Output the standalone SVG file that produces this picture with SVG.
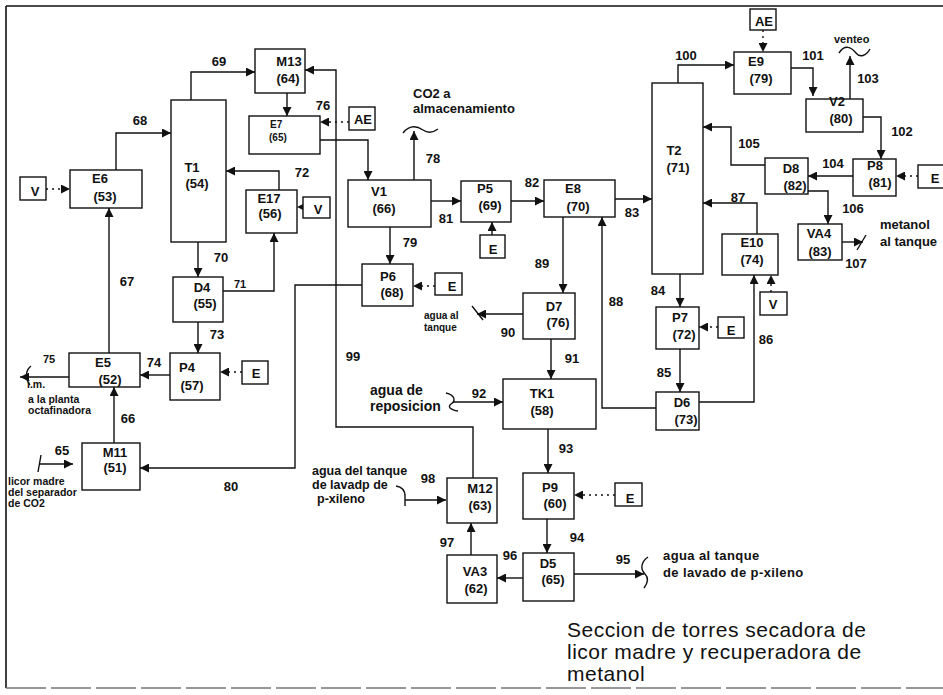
<svg xmlns="http://www.w3.org/2000/svg" width="943" height="695" viewBox="0 0 943 695">
<defs>
<marker id="a" viewBox="0 0 10 10" refX="10" refY="5" markerWidth="9" markerHeight="9" markerUnits="userSpaceOnUse" orient="auto"><path d="M0,0 L10,5 L0,10 z" fill="#111"/></marker>
<style>
.n rect{fill:#fff;stroke:#111;stroke-width:1.4}
text{font-family:"Liberation Sans",Arial,sans-serif;font-weight:bold;fill:#111}
.n text,.lb text{font-size:13px;text-anchor:middle}
.c path{stroke:#111;stroke-width:1.4;fill:none}
.c .ar{marker-end:url(#a)}
.c .d{stroke-dasharray:2 4}
.sm{font-size:10.5px}
.fr{stroke:#111;stroke-width:1.6;fill:none}
.title{font-weight:normal;font-size:21px;letter-spacing:0.5px}
</style>
</defs>
<rect width="943" height="695" fill="#fff"/>
<path class="fr" d="M6,6 H943 M6,6 V688"/>
<path d="M6,688 H943" stroke="#777" stroke-width="1.4" stroke-dasharray="40 5" fill="none"/>

<g class="c">
<path class="ar" d="M116,170 V133 H171"/>
<path class="ar" d="M191,100 V72 H255"/>
<path class="ar" d="M287,93 V116"/>
<path class="ar" d="M473,478 V427 H336 V70 H305"/>
<path class="ar" d="M320,140 H368 V180"/>
<path class="ar d" d="M349,122 H320"/>
<path class="ar" d="M279,190 V171 H226"/>
<path class="ar d" d="M303,207 H297"/>
<path class="ar d" d="M46,189 H70"/>
<path class="ar" d="M109,353 V208"/>
<path class="ar" d="M198,242 V277"/>
<path class="ar" d="M223,291 H274 V233"/>
<path class="ar" d="M198,322 V353"/>
<path class="ar d" d="M242,372 H220"/>
<path class="ar" d="M170,375 H140"/>
<path class="ar" d="M69,377 H20"/>
<path d="M31,366 C25,371 25,379 30,385"/>
<path class="ar" d="M114,443 V387"/>
<path class="ar" d="M39,464 H73"/>
<path d="M38,472 L41,455"/>
<path class="ar" d="M362,285 H295 V468 H140"/>
<path class="ar" d="M414,180 V131"/>
<path d="M403,133 C410,124 417,126 423,130 C429,134 434,132 438,129"/>
<path class="ar" d="M390,227 V264"/>
<path class="ar d" d="M435,286 H413"/>
<path class="ar" d="M431,201 H461"/>
<path class="ar" d="M492,235 V222"/>
<path class="ar" d="M511,201 H544"/>
<path class="ar" d="M615,199 H652"/>
<path class="ar" d="M563,217 V293"/>
<path class="ar" d="M656,408 H602 V217"/>
<path class="ar" d="M523,314 H477"/>
<path d="M472,306 L483,320"/>
<path class="ar" d="M551,339 V379"/>
<path class="ar" d="M453,402 H503"/>
<path d="M446,393 C455,395 456,401 451,404 C447,407 451,410 458,411"/>
<path class="ar" d="M548,429 V473"/>
<path class="ar d" d="M615,495 H574"/>
<path class="ar" d="M547,519 V553"/>
<path class="ar" d="M523,578 H497"/>
<path class="ar" d="M471,555 V523"/>
<path class="ar" d="M405,500 H446"/>
<path d="M396,486 C402,487 405,490 405,496 M405,494 V506"/>
<path class="ar" d="M574,574 H644"/>
<path d="M648,557 C641,562 640,569 645,574 C650,579 647,584 644,588"/>
<path class="ar" d="M678,83 V65 H734"/>
<path class="ar d" d="M763,30 V52"/>
<path class="ar" d="M791,68 H813 V96"/>
<path class="ar" d="M850,99 V56"/>
<path d="M839,53 C845,44 851,47 856,53 C860,58 866,56 870,49"/>
<path class="ar" d="M863,117 H881 V159"/>
<path class="ar d" d="M918,176 H896"/>
<path class="ar" d="M853,176 H808"/>
<path class="ar" d="M765,165 H731 V127 H703"/>
<path class="ar" d="M808,191 H828 V224"/>
<path class="ar" d="M842,242 H863"/>
<path d="M857,250 L866,235"/>
<path class="ar" d="M757,234 V203 H703"/>
<path class="ar" d="M680,274 V307"/>
<path class="ar d" d="M718,327 H699"/>
<path class="ar" d="M680,349 V392"/>
<path class="ar" d="M699,402 H754 V275"/>
<path class="ar d" d="M771,292 V275"/>
</g>

<g class="n" id="M13"><rect x="255" y="49" width="50" height="44"/><text x="289" y="66">M13</text><text x="288" y="83">(64)</text></g>
<g class="n" id="E7"><rect x="249" y="116" width="71" height="38"/><text x="270" y="128" style="font-size:10px;text-anchor:start">E7</text><text x="269" y="141" style="font-size:10px;text-anchor:start">(65)</text></g>
<g class="n" id="T1"><rect x="171" y="100" width="55" height="142"/><text x="192" y="172">T1</text><text x="197" y="188">(54)</text></g>
<g class="n" id="E6"><rect x="70" y="170" width="72" height="38"/><text x="100" y="183">E6</text><text x="105" y="201">(53)</text></g>
<g class="n" id="V-E6"><rect x="20" y="177" width="26" height="23"/><text x="35" y="196">V</text></g>
<g class="n" id="E17"><rect x="246" y="190" width="51" height="43"/><text x="269" y="203">E17</text><text x="270" y="218">(56)</text></g>
<g class="n" id="V-E17"><rect x="303" y="197" width="27" height="21"/><text x="318" y="214">V</text></g>
<g class="n" id="D4"><rect x="173" y="277" width="50" height="45"/><text x="202" y="292">D4</text><text x="205" y="308">(55)</text></g>
<g class="n" id="P4"><rect x="170" y="353" width="50" height="47"/><text x="187" y="372">P4</text><text x="192" y="390">(57)</text></g>
<g class="n" id="E-P4"><rect x="242" y="361" width="26" height="23"/><text x="256" y="378">E</text></g>
<g class="n" id="E5"><rect x="69" y="353" width="71" height="34"/><text x="103" y="367">E5</text><text x="110" y="384">(52)</text></g>
<g class="n" id="M11"><rect x="82" y="443" width="58" height="47"/><text x="115" y="457">M11</text><text x="115" y="472">(51)</text></g>
<g class="n" id="V1"><rect x="348" y="180" width="83" height="47"/><text x="379" y="196">V1</text><text x="384" y="213">(66)</text></g>
<g class="n" id="P5"><rect x="461" y="181" width="50" height="41"/><text x="485" y="193">P5</text><text x="490" y="210">(69)</text></g>
<g class="n" id="E-P5"><rect x="480" y="235" width="25" height="23"/><text x="493" y="254">E</text></g>
<g class="n" id="E8"><rect x="544" y="180" width="71" height="37"/><text x="573" y="193">E8</text><text x="578" y="211">(70)</text></g>
<g class="n" id="P6"><rect x="362" y="264" width="51" height="42"/><text x="388" y="281">P6</text><text x="392" y="297">(68)</text></g>
<g class="n" id="E-P6"><rect x="435" y="273" width="27" height="22"/><text x="452" y="291">E</text></g>
<g class="n" id="D7"><rect x="523" y="293" width="52" height="46"/><text x="554" y="311">D7</text><text x="558" y="327">(76)</text></g>
<g class="n" id="TK1"><rect x="503" y="379" width="93" height="50"/><text x="542" y="398">TK1</text><text x="542" y="415">(58)</text></g>
<g class="n" id="M12"><rect x="447" y="478" width="50" height="45"/><text x="480" y="493">M12</text><text x="480" y="510">(63)</text></g>
<g class="n" id="P9"><rect x="523" y="473" width="51" height="46"/><text x="550" y="492">P9</text><text x="555" y="508">(60)</text></g>
<g class="n" id="E-P9"><rect x="615" y="483" width="27" height="23"/><text x="630" y="503">E</text></g>
<g class="n" id="VA3"><rect x="447" y="555" width="50" height="48"/><text x="475" y="576">VA3</text><text x="476" y="593">(62)</text></g>
<g class="n" id="D5"><rect x="523" y="553" width="51" height="48"/><text x="548" y="568">D5</text><text x="553" y="584">(65)</text></g>
<g class="n" id="T2"><rect x="652" y="83" width="51" height="191"/><text x="674" y="155">T2</text><text x="678" y="172">(71)</text></g>
<g class="n" id="AE-E9"><rect x="750" y="9" width="26" height="21"/><text x="764" y="26">AE</text></g>
<g class="n" id="E9"><rect x="734" y="52" width="57" height="42"/><text x="756" y="66">E9</text><text x="761" y="83">(79)</text></g>
<g class="n" id="V2"><rect x="806" y="99" width="57" height="33"/><text x="837" y="106">V2</text><text x="841" y="123">(80)</text></g>
<g class="n" id="P8"><rect x="853" y="159" width="43" height="37"/><text x="875" y="170">P8</text><text x="880" y="187">(81)</text></g>
<g class="n" id="E-P8"><rect x="918" y="165" width="30" height="23"/><text x="935" y="183">E</text></g>
<g class="n" id="D8"><rect x="765" y="158" width="43" height="36"/><text x="791" y="173">D8</text><text x="795" y="190">(82)</text></g>
<g class="n" id="VA4"><rect x="798" y="224" width="44" height="36"/><text x="819" y="238">VA4</text><text x="820" y="256">(83)</text></g>
<g class="n" id="E10"><rect x="722" y="234" width="56" height="41"/><text x="752" y="247">E10</text><text x="752" y="264">(74)</text></g>
<g class="n" id="V-E10"><rect x="760" y="292" width="27" height="23"/><text x="773" y="309">V</text></g>
<g class="n" id="P7"><rect x="656" y="307" width="43" height="42"/><text x="680" y="322">P7</text><text x="684" y="339">(72)</text></g>
<g class="n" id="E-P7"><rect x="718" y="317" width="26" height="21"/><text x="731" y="335">E</text></g>
<g class="n" id="D6"><rect x="656" y="392" width="43" height="38"/><text x="682" y="407">D6</text><text x="686" y="424">(73)</text></g>
<g class="n" id="AE-E7"><rect x="349" y="107" width="26" height="23"/><text x="363" y="124">AE</text></g>

<g class="lb">
<text x="219" y="66">69</text><text x="140" y="125">68</text><text x="302" y="177">72</text><text x="323" y="110">76</text>
<text x="127" y="286">67</text><text x="221" y="262">70</text><text x="240" y="288" style="font-size:11px">71</text><text x="217" y="339">73</text>
<text x="154" y="367">74</text><text x="49" y="363" style="font-size:11px">75</text><text x="128" y="423">66</text><text x="62" y="455">65</text>
<text x="231" y="491">80</text><text x="433" y="163">78</text><text x="410" y="247">79</text><text x="446" y="223">81</text>
<text x="532" y="187">82</text><text x="632" y="217">83</text><text x="542" y="268">89</text><text x="616" y="306">88</text>
<text x="508" y="337">90</text><text x="572" y="363">91</text><text x="479" y="398">92</text><text x="566" y="453">93</text>
<text x="353" y="361">99</text><text x="428" y="483">98</text><text x="577" y="542">94</text><text x="447" y="547">97</text>
<text x="510" y="560">96</text><text x="623" y="564">95</text><text x="686" y="60">100</text><text x="813" y="60">101</text>
<text x="868" y="83">103</text><text x="902" y="136">102</text><text x="749" y="148">105</text><text x="833" y="168">104</text>
<text x="853" y="213">106</text><text x="738" y="202">87</text><text x="856" y="268">107</text><text x="658" y="295">84</text>
<text x="664" y="377">85</text><text x="766" y="344">86</text>
</g>

<g id="notes">
<text x="413" y="98" font-size="13">CO2 a</text>
<text x="413" y="113" font-size="13">almacenamiento</text>
<text x="834" y="43" font-size="11">venteo</text>
<text x="880" y="229" font-size="13">metanol</text>
<text x="880" y="246" font-size="13">al tanque</text>
<text x="424" y="319" font-size="10">agua al</text>
<text x="424" y="331" font-size="10">tanque</text>
<text x="370" y="395" font-size="14">agua de</text>
<text x="370" y="411" font-size="14">reposicion</text>
<text x="312" y="475" font-size="12.5">agua del tanque</text>
<text x="312" y="489" font-size="12.5">de lavadp de</text>
<text x="317" y="503" font-size="12.5">p-xileno</text>
<text x="663" y="560" font-size="13" letter-spacing="0.4">agua al tanque</text>
<text x="663" y="577" font-size="13" letter-spacing="0.4">de lavado de p-xileno</text>
<text x="27" y="388" class="sm">i.m.</text>
<text x="28" y="403" class="sm">a la planta</text>
<text x="28" y="414" class="sm">octafinadora</text>
<text x="8" y="485" class="sm">licor madre</text>
<text x="8" y="496" class="sm">del separador</text>
<text x="8" y="507" class="sm">de CO2</text>
<text x="567" y="637" class="title">Seccion de torres secadora de</text>
<text x="567" y="659" class="title">licor madre y recuperadora de</text>
<text x="567" y="681" class="title">metanol</text>
</g>
</svg>
